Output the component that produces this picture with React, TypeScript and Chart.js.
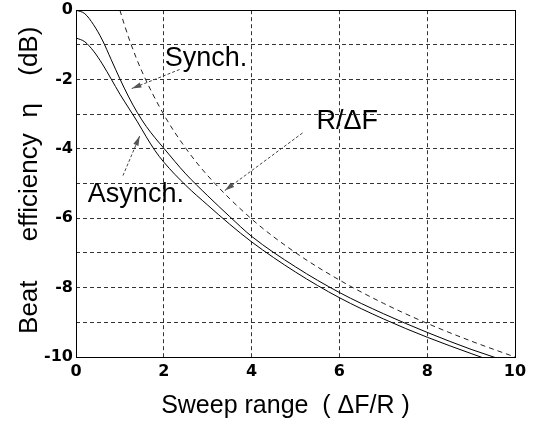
import { useEffect, useRef } from 'react';
import { Chart, registerables } from 'chart.js';

Chart.register(...registerables);

// Sweep range (ΔF/R) sample positions for the two beat-efficiency curves
const sweepX = [0, 0.2, 0.4, 0.6, 0.8, 1.0, 1.2, 1.4, 1.6, 1.8, 2.0, 2.5, 3, 3.5, 4, 5, 6, 7, 8, 9, 10];
// Beat efficiency η (dB)
const synchEta = [0, -0.1, -0.42, -0.86, -1.42, -1.98, -2.5, -2.96, -3.35, -3.68, -3.98, -4.72, -5.35, -5.95, -6.52, -7.4, -8.14, -8.75, -9.29, -9.78, -10.2];
const asynchEta = [-0.8, -0.91, -1.18, -1.55, -1.98, -2.42, -2.82, -3.22, -3.65, -4.05, -4.38, -5.05, -5.62, -6.17, -6.68, -7.55, -8.29, -8.9, -9.43, -9.9, -10.35];
// R/ΔF reference curve
const ratioX = [1, 1.1, 1.25, 1.5, 2, 2.5, 3, 4, 5, 6, 7, 8, 9, 10];
const ratioEta = [0, -0.41, -0.97, -1.76, -3.01, -3.98, -4.77, -6.02, -6.99, -7.78, -8.45, -9.03, -9.54, -10];

const xTickValues = [0, 2, 4, 6, 8, 10];
const yTickValues = [0, -2, -4, -6, -8, -10];

const xTitle = 'Sweep range  ( ΔF/R )';
// y title words and their centre offsets (px from top of plot area)
const yTitleWords = ['Beat', 'efficiency', 'η', '(dB)'];
const yTitleWordOffsets = [297, 177, 100, 41];

// text labels (data coordinates, left / baseline)
const labelTexts = ['Synch.', 'Asynch.', 'R/ΔF'];
const labelX = [2.02, 0.27, 5.48];
const labelY = [-1.6, -5.54, -3.43];
// leader lines: start -> arrow tip (data coordinates)
const leaderFromX = [2.36, 1.07, 5.16];
const leaderFromY = [-1.71, -4.77, -3.54];
const leaderToX = [1.27, 1.45, 3.39];
const leaderToY = [-2.26, -3.63, -5.2];

const toPoints = (xs: number[], ys: number[]) => xs.map((x, i) => ({ x, y: ys[i] }));

const LABEL_FONT = '27px "Liberation Sans", Arial, sans-serif';
const TITLE_FONT = '25px "Liberation Sans", Arial, sans-serif';
const YTITLE_FONT = '26px "Liberation Sans", Arial, sans-serif';

const annotatePlugin = {
  id: 'annotate',
  afterDraw(chart: any) {
    const { ctx, chartArea: a, scales } = chart;
    const xs = scales.x;
    const ys = scales.y;
    ctx.save();
    // frame
    ctx.strokeStyle = '#000';
    ctx.lineWidth = 1;
    ctx.setLineDash([]);
    ctx.strokeRect(Math.round(a.left) + 0.5, Math.round(a.top) + 0.5, Math.round(a.right - a.left), Math.round(a.bottom - a.top));

    // leaders
    for (let i = 0; i < leaderFromX.length; i++) {
      const x1 = xs.getPixelForValue(leaderFromX[i]);
      const y1 = ys.getPixelForValue(leaderFromY[i]);
      const x2 = xs.getPixelForValue(leaderToX[i]);
      const y2 = ys.getPixelForValue(leaderToY[i]);
      ctx.strokeStyle = '#444';
      ctx.lineWidth = 1;
      ctx.setLineDash([3, 2]);
      ctx.beginPath();
      ctx.moveTo(x1, y1);
      ctx.lineTo(x2, y2);
      ctx.stroke();
      const ang = Math.atan2(y2 - y1, x2 - x1);
      const len = 10;
      const spread = 0.28;
      ctx.setLineDash([]);
      ctx.fillStyle = '#555';
      ctx.beginPath();
      ctx.moveTo(x2, y2);
      ctx.lineTo(x2 - len * Math.cos(ang - spread), y2 - len * Math.sin(ang - spread));
      ctx.lineTo(x2 - len * Math.cos(ang + spread), y2 - len * Math.sin(ang + spread));
      ctx.closePath();
      ctx.fill();
    }

    // labels
    ctx.fillStyle = '#000';
    ctx.font = LABEL_FONT;
    ctx.textAlign = 'left';
    ctx.textBaseline = 'alphabetic';
    for (let i = 0; i < labelTexts.length; i++) {
      ctx.fillText(labelTexts[i], xs.getPixelForValue(labelX[i]), ys.getPixelForValue(labelY[i]));
    }

    // axis titles
    ctx.font = TITLE_FONT;
    ctx.textAlign = 'center';
    ctx.textBaseline = 'alphabetic';
    ctx.fillText(xTitle, (a.left + a.right) / 2 - 10, a.bottom + 56);
    ctx.font = YTITLE_FONT;
    ctx.textBaseline = 'middle';
    for (let i = 0; i < yTitleWords.length; i++) {
      ctx.save();
      ctx.translate(30, a.top + yTitleWordOffsets[i]);
      ctx.rotate(-Math.PI / 2);
      ctx.fillText(yTitleWords[i], 0, 0);
      ctx.restore();
    }
    ctx.restore();
  },
};

export default function App() {
  const ref = useRef<HTMLCanvasElement | null>(null);
  useEffect(() => {
    if (!ref.current) return;
    const chart = new Chart(ref.current, {
      type: 'line',
      data: {
        datasets: [
          {
            label: 'Synch.',
            data: toPoints(sweepX, synchEta),
            borderColor: '#000',
            borderWidth: 1,
            pointRadius: 0,
            cubicInterpolationMode: 'monotone',
            fill: false,
          },
          {
            label: 'Asynch.',
            data: toPoints(sweepX, asynchEta),
            borderColor: '#000',
            borderWidth: 1,
            pointRadius: 0,
            cubicInterpolationMode: 'monotone',
            fill: false,
          },
          {
            label: 'R/ΔF',
            data: toPoints(ratioX, ratioEta),
            borderColor: '#222',
            borderWidth: 1,
            borderDash: [5, 4],
            pointRadius: 0,
            cubicInterpolationMode: 'monotone',
            fill: false,
          },
        ],
      },
      options: {
        responsive: false,
        animation: false,
        layout: { padding: { top: 8, right: 26, left: 0, bottom: 0 } },
        plugins: { legend: { display: false }, tooltip: { enabled: false } },
        scales: {
          x: {
            type: 'linear',
            min: 0,
            max: 10,
            afterFit: (s: any) => { s.height = 67; },
            afterBuildTicks: (s: any) => { s.ticks = xTickValues.map((v) => ({ value: v })); },
            grid: { color: 'rgba(0,0,0,0.8)', lineWidth: 1, drawTicks: false },
            border: { display: false, dash: [4, 3] },
            ticks: {
              padding: 5,
              color: '#000',
              font: { family: '"DejaVu Sans", sans-serif', size: 16, weight: 'bold', lineHeight: 1.2 },
              maxRotation: 0,
            },
          },
          y: {
            type: 'linear',
            min: -10,
            max: 0,
            afterFit: (s: any) => { s.width = 76; },
            afterBuildTicks: (s: any) => {
              const t = [];
              for (let v = -10; v <= 0; v += 1) t.push({ value: v });
              s.ticks = t;
            },
            grid: { color: 'rgba(0,0,0,0.8)', lineWidth: 1, drawTicks: false },
            border: { display: false, dash: [4, 3] },
            ticks: {
              padding: 3,
              color: '#000',
              font: { family: '"DejaVu Sans", sans-serif', size: 16, weight: 'bold', lineHeight: 0.9 },
              callback: (v: any) => (yTickValues.includes(Number(v)) ? String(v) : ''),
            },
          },
        },
      },
      plugins: [annotatePlugin],
    });
    return () => chart.destroy();
  }, []);
  return (
    <div style={{ position: 'absolute', left: 0, top: 0, width: 541, height: 424, background: '#fff' }}>
      <canvas ref={ref} width={541} height={424} />
    </div>
  );
}
